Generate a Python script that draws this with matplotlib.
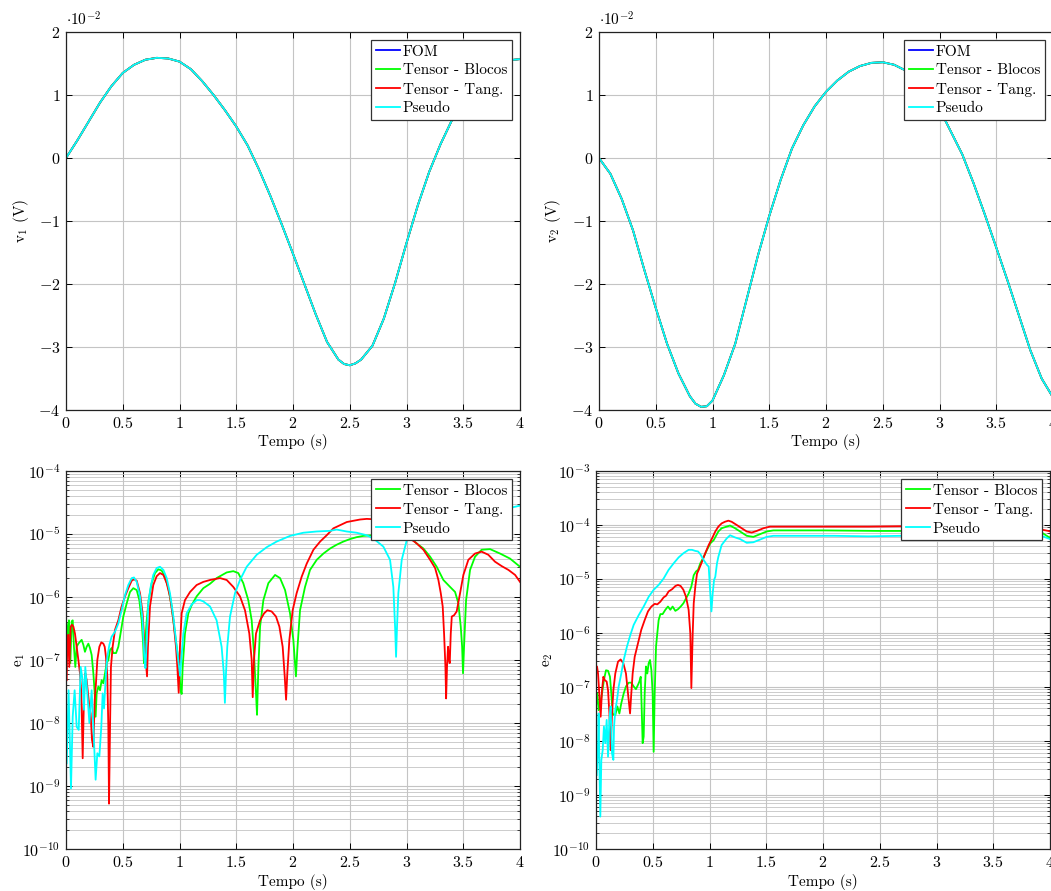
import matplotlib
matplotlib.use("Agg")
import matplotlib.pyplot as plt
import numpy as np
from matplotlib.ticker import FixedLocator, FuncFormatter, LogLocator, NullFormatter

plt.rcParams['font.family'] = 'serif'
plt.rcParams['font.serif'] = ['cmr10']
plt.rcParams['mathtext.fontset'] = 'cm'
plt.rcParams['axes.unicode_minus'] = False
plt.rcParams['font.size'] = 11

# ---------------- data ----------------
# voltages in units of 1e-2 V (all models coincide visually)
t_v1 = [0.0, 0.1, 0.2, 0.3, 0.4, 0.5, 0.6, 0.7, 0.8, 0.9,
        1.0, 1.1, 1.2, 1.3, 1.4, 1.5, 1.6, 1.7, 1.8, 1.9,
        2.0, 2.1, 2.2, 2.3, 2.4, 2.45, 2.5, 2.55, 2.6, 2.7, 2.8, 2.9,
        3.0, 3.1, 3.2, 3.3, 3.4, 3.5, 3.6, 3.7, 3.8, 3.9, 4.0]
v1_fom = [0.00, 0.28, 0.58, 0.88, 1.14, 1.35, 1.48, 1.56, 1.59, 1.58,
          1.53, 1.41, 1.22, 1.00, 0.76, 0.50, 0.20, -0.18, -0.60, -1.05,
          -1.52, -2.00, -2.48, -2.92, -3.20, -3.27, -3.29, -3.26, -3.20, -2.98, -2.55, -1.98,
          -1.35, -0.75, -0.22, 0.22, 0.60, 0.92, 1.18, 1.37, 1.49, 1.55, 1.57]
t_v2 = [0.0, 0.1, 0.2, 0.3, 0.4, 0.5, 0.6, 0.7, 0.8, 0.85, 0.9, 0.95,
        1.0, 1.1, 1.2, 1.3, 1.4, 1.5, 1.6, 1.7, 1.8, 1.9,
        2.0, 2.1, 2.2, 2.3, 2.4, 2.5, 2.6, 2.7, 2.8, 2.9,
        3.0, 3.1, 3.2, 3.3, 3.4, 3.5, 3.6, 3.7, 3.8, 3.9, 4.0]
v2_fom = [0.00, -0.25, -0.65, -1.15, -1.78, -2.38, -2.95, -3.42, -3.78, -3.90, -3.95, -3.94,
          -3.85, -3.45, -2.95, -2.25, -1.55, -0.92, -0.35, 0.15, 0.52, 0.82,
          1.05, 1.23, 1.37, 1.46, 1.51, 1.52, 1.48, 1.39, 1.24, 1.05,
          0.78, 0.42, 0.06, -0.40, -0.90, -1.42, -1.95, -2.50, -3.05, -3.50, -3.80]
v1_blocos = v1_fom
v1_tang = v1_fom
v1_pseudo = v1_fom
v2_blocos = v2_fom
v2_tang = v2_fom
v2_pseudo = v2_fom

# errors e1 : time (s) and log10(error)
e1_blocos_t = [0.006, 0.018, 0.026, 0.038, 0.050, 0.059, 0.070, 0.082, 0.094, 0.109,
               0.123, 0.138, 0.153, 0.167, 0.182, 0.197, 0.211, 0.226, 0.241, 0.253,
               0.261, 0.270, 0.285, 0.300, 0.314, 0.329, 0.344, 0.358, 0.373, 0.388,
               0.402, 0.417, 0.441, 0.461, 0.476, 0.505, 0.535, 0.564, 0.593, 0.623,
               0.646, 0.667, 0.681, 0.687, 0.696, 0.711, 0.728, 0.755, 0.784, 0.814,
               0.843, 0.872, 0.902, 0.931, 0.960, 0.990, 1.010, 1.019, 1.028, 1.048,
               1.078, 1.107, 1.151, 1.210, 1.269, 1.327, 1.416, 1.474, 1.518, 1.562,
               1.606, 1.636, 1.656, 1.674, 1.683, 1.695, 1.710, 1.739, 1.783, 1.842,
               1.886, 1.930, 1.974, 2.003, 2.026, 2.038, 2.062, 2.106, 2.150, 2.209,
               2.268, 2.327, 2.385, 2.444, 2.503, 2.561, 2.620, 2.700, 2.800, 2.900,
               3.000, 3.060, 3.090, 3.149, 3.208, 3.266, 3.325, 3.384, 3.428, 3.457,
               3.478, 3.490, 3.498, 3.507, 3.525, 3.560, 3.604, 3.662, 3.736, 3.824,
               3.912, 4.000]
e1_blocos_lg = [-6.42, -6.68, -6.37, -7.05, -6.39, -6.37, -6.79, -7.11, -6.79, -6.74,
                -6.71, -6.68, -6.76, -6.87, -6.79, -6.74, -6.81, -6.92, -7.21, -7.53,
                -7.90, -7.53, -7.42, -7.48, -7.32, -7.37, -7.21, -7.05, -7.00, -6.84,
                -6.81, -6.89, -6.89, -6.79, -6.63, -6.31, -6.10, -5.92, -5.86, -5.89,
                -6.05, -6.37, -6.79, -7.05, -6.79, -6.37, -6.05, -5.78, -5.62, -5.56,
                -5.58, -5.68, -5.86, -6.15, -6.58, -7.00, -7.48, -7.54, -7.11, -6.58,
                -6.26, -6.13, -5.99, -5.86, -5.79, -5.70, -5.61, -5.59, -5.62, -5.78,
                -6.05, -6.37, -6.89, -7.53, -7.87, -7.11, -6.47, -6.05, -5.78, -5.65,
                -5.70, -5.89, -6.26, -6.68, -7.26, -6.84, -6.21, -5.84, -5.57, -5.41,
                -5.31, -5.23, -5.17, -5.12, -5.08, -5.05, -5.03, -5.02, -5.02, -5.05,
                -5.08, -5.10, -5.15, -5.23, -5.36, -5.52, -5.73, -5.84, -5.92, -6.10,
                -6.47, -6.79, -7.21, -6.79, -6.05, -5.57, -5.36, -5.25, -5.24, -5.31,
                -5.39, -5.52]

e1_tang_t = [0.006, 0.012, 0.020, 0.029, 0.041, 0.053, 0.065, 0.079, 0.094, 0.109,
             0.123, 0.135, 0.147, 0.159, 0.170, 0.182, 0.194, 0.206, 0.217, 0.229,
             0.241, 0.253, 0.264, 0.276, 0.294, 0.311, 0.329, 0.341, 0.352, 0.364,
             0.373, 0.379, 0.388, 0.396, 0.411, 0.432, 0.461, 0.490, 0.520, 0.549,
             0.579, 0.599, 0.623, 0.652, 0.675, 0.693, 0.705, 0.714, 0.722, 0.740,
             0.769, 0.799, 0.828, 0.858, 0.887, 0.916, 0.946, 0.969, 0.981, 0.993,
             1.004, 1.019, 1.048, 1.093, 1.151, 1.210, 1.269, 1.357, 1.416, 1.474,
             1.533, 1.577, 1.615, 1.636, 1.645, 1.656, 1.674, 1.710, 1.745, 1.774,
             1.812, 1.850, 1.880, 1.909, 1.927, 1.939, 1.950, 1.968, 1.997, 2.032,
             2.076, 2.121, 2.180, 2.239, 2.297, 2.356, 2.415, 2.474, 2.533, 2.591,
             2.650, 2.750, 2.850, 2.950, 3.031, 3.090, 3.149, 3.208, 3.252, 3.281,
             3.302, 3.319, 3.331, 3.343, 3.349, 3.357, 3.366, 3.375, 3.381, 3.390,
             3.399, 3.419, 3.442, 3.472, 3.501, 3.545, 3.604, 3.662, 3.721, 3.780,
             3.839, 3.898, 3.957, 4.000]
e1_tang_lg = [-7.32, -6.68, -6.60, -7.11, -6.47, -6.44, -6.47, -6.58, -6.79, -7.00,
              -7.21, -7.53, -8.56, -7.53, -7.21, -7.32, -7.53, -7.74, -7.85, -8.27,
              -8.38, -7.63, -7.37, -7.00, -6.79, -6.72, -6.74, -6.79, -6.95, -7.26,
              -8.06, -9.28, -8.06, -7.11, -6.79, -6.52, -6.37, -6.15, -5.99, -5.86,
              -5.74, -5.72, -5.74, -5.94, -6.26, -6.79, -7.05, -7.26, -6.79, -6.15,
              -5.81, -5.67, -5.62, -5.65, -5.78, -5.99, -6.37, -6.79, -7.11, -7.52,
              -6.79, -6.26, -6.05, -5.92, -5.81, -5.76, -5.73, -5.70, -5.73, -5.84,
              -5.99, -6.21, -6.58, -7.00, -7.59, -7.00, -6.58, -6.37, -6.26, -6.21,
              -6.23, -6.31, -6.47, -6.79, -7.26, -7.63, -7.21, -6.68, -6.21, -5.94,
              -5.68, -5.47, -5.25, -5.12, -5.02, -4.91, -4.86, -4.81, -4.79, -4.77,
              -4.76, -4.77, -4.83, -4.95, -5.07, -5.15, -5.25, -5.41, -5.54, -5.73,
              -5.94, -6.15, -6.58, -7.11, -7.61, -7.11, -6.79, -7.00, -7.05, -6.58,
              -6.31, -6.29, -6.23, -5.94, -5.65, -5.41, -5.31, -5.28, -5.33, -5.44,
              -5.51, -5.57, -5.65, -5.76]

e1_pseudo_t = [0.006, 0.023, 0.044, 0.059, 0.076, 0.094, 0.112, 0.129, 0.147, 0.159,
               0.170, 0.188, 0.206, 0.226, 0.241, 0.261, 0.276, 0.294, 0.311, 0.323,
               0.335, 0.352, 0.364, 0.382, 0.402, 0.432, 0.461, 0.490, 0.520, 0.549,
               0.579, 0.599, 0.623, 0.652, 0.675, 0.690, 0.700, 0.711, 0.725, 0.746,
               0.769, 0.799, 0.828, 0.858, 0.887, 0.916, 0.946, 0.975, 0.999, 1.005,
               1.020, 1.034, 1.063, 1.107, 1.151, 1.181, 1.210, 1.269, 1.327, 1.371,
               1.390, 1.400, 1.410, 1.421, 1.445, 1.489, 1.533, 1.592, 1.680, 1.768,
               1.856, 1.974, 2.091, 2.209, 2.325, 2.385, 2.473, 2.561, 2.649, 2.708,
               2.796, 2.855, 2.884, 2.900, 2.908, 2.916, 2.928, 2.958, 3.002, 3.100,
               3.300, 3.500, 3.700, 3.900, 4.000]
e1_pseudo_lg = [-8.64, -7.48, -9.04, -7.90, -7.48, -8.06, -8.11, -7.11, -7.32, -7.79,
                -7.11, -7.53, -8.00, -7.48, -8.06, -8.90, -8.48, -8.53, -8.06, -7.53,
                -7.77, -7.21, -6.95, -6.76, -6.63, -6.55, -6.42, -6.21, -5.97, -5.81,
                -5.70, -5.69, -5.76, -5.99, -6.37, -6.95, -7.13, -6.68, -6.10, -5.84,
                -5.65, -5.54, -5.52, -5.57, -5.70, -5.94, -6.31, -6.79, -7.15, -7.25,
                -6.90, -6.58, -6.26, -6.12, -6.05, -6.05, -6.07, -6.15, -6.37, -6.79,
                -7.20, -7.68, -7.20, -6.79, -6.31, -5.94, -5.73, -5.52, -5.33, -5.21,
                -5.12, -5.03, -4.98, -4.96, -4.95, -4.93, -4.96, -4.98, -5.02, -5.07,
                -5.20, -5.41, -5.84, -6.50, -6.95, -6.50, -5.94, -5.41, -5.10, -5.00,
                -4.88, -4.76, -4.66, -4.59, -4.55]

# errors e2 : time (s) and log10(error)
e2_blocos_t = [0.000, 0.012, 0.023, 0.035, 0.053, 0.070, 0.088, 0.106, 0.123, 0.135,
               0.147, 0.159, 0.170, 0.188, 0.206, 0.223, 0.244, 0.264, 0.288, 0.311,
               0.332, 0.352, 0.370, 0.382, 0.394, 0.402, 0.411, 0.420, 0.429, 0.440,
               0.452, 0.464, 0.476, 0.488, 0.499, 0.508, 0.517, 0.529, 0.540, 0.552,
               0.567, 0.587, 0.611, 0.634, 0.655, 0.675, 0.699, 0.722, 0.746, 0.770,
               0.793, 0.816, 0.840, 0.861, 0.881, 0.899, 0.919, 0.949, 0.978, 1.007,
               1.037, 1.078, 1.107, 1.151, 1.181, 1.225, 1.284, 1.328, 1.386, 1.445,
               1.504, 1.563, 2.000, 2.500, 3.000, 3.500, 3.912, 3.986, 4.000]
e2_blocos_lg = [-7.36, -7.12, -7.43, -7.36, -7.12, -6.87, -6.69, -6.70, -6.81, -7.12,
                -7.49, -7.52, -7.52, -7.36, -7.49, -7.30, -7.12, -6.99, -6.92, -6.92,
                -6.99, -7.04, -6.96, -6.90, -6.81, -7.36, -8.04, -7.92, -7.12, -6.62,
                -6.75, -6.56, -6.50, -6.69, -7.12, -8.20, -7.12, -6.25, -6.01, -5.76,
                -5.65, -5.65, -5.57, -5.51, -5.57, -5.51, -5.59, -5.56, -5.51, -5.45,
                -5.36, -5.27, -5.14, -4.93, -4.86, -4.83, -4.71, -4.59, -4.46, -4.34,
                -4.28, -4.12, -4.06, -4.03, -4.01, -4.06, -4.14, -4.20, -4.22, -4.17,
                -4.12, -4.10, -4.10, -4.11, -4.11, -4.11, -4.12, -4.22, -4.23]

e2_tang_t = [0.000, 0.009, 0.018, 0.029, 0.041, 0.053, 0.065, 0.076, 0.094, 0.106,
             0.118, 0.129, 0.141, 0.153, 0.170, 0.194, 0.217, 0.241, 0.264, 0.282,
             0.300, 0.311, 0.323, 0.341, 0.370, 0.399, 0.429, 0.458, 0.488, 0.517,
             0.540, 0.567, 0.596, 0.617, 0.640, 0.670, 0.699, 0.722, 0.746, 0.770,
             0.793, 0.816, 0.831, 0.840, 0.852, 0.861, 0.875, 0.890, 0.905, 0.934,
             0.963, 0.993, 1.022, 1.051, 1.078, 1.107, 1.136, 1.166, 1.195, 1.240,
             1.284, 1.328, 1.372, 1.416, 1.475, 1.533, 1.622, 2.000, 2.400, 2.800,
             3.200, 3.600, 3.912, 3.986, 4.000]
e2_tang_lg = [-6.78, -6.62, -6.75, -7.12, -7.55, -7.06, -6.81, -6.87, -6.90, -7.06,
              -7.49, -8.17, -7.49, -7.06, -6.75, -6.53, -6.49, -6.56, -6.75, -7.12,
              -7.49, -7.12, -6.75, -6.44, -6.19, -5.94, -5.76, -5.60, -5.51, -5.46,
              -5.47, -5.42, -5.34, -5.31, -5.23, -5.19, -5.13, -5.11, -5.13, -5.20,
              -5.33, -5.57, -6.01, -7.02, -6.01, -5.45, -5.14, -4.90, -4.83, -4.68,
              -4.52, -4.37, -4.25, -4.12, -4.03, -3.97, -3.94, -3.92, -3.94, -4.00,
              -4.06, -4.12, -4.14, -4.11, -4.06, -4.03, -4.03, -4.03, -4.03, -4.02,
              -4.02, -4.03, -4.08, -4.11, -4.12]

e2_pseudo_t = [0.006, 0.018, 0.023, 0.029, 0.038, 0.047, 0.059, 0.070, 0.082, 0.094,
               0.106, 0.118, 0.129, 0.141, 0.153, 0.159, 0.170, 0.185, 0.200, 0.223,
               0.244, 0.273, 0.302, 0.332, 0.376, 0.420, 0.464, 0.508, 0.552, 0.596,
               0.640, 0.684, 0.728, 0.772, 0.816, 0.846, 0.875, 0.899, 0.919, 0.949,
               0.978, 0.993, 1.007, 1.017, 1.028, 1.040, 1.051, 1.066, 1.078, 1.107,
               1.151, 1.181, 1.225, 1.269, 1.328, 1.386, 1.445, 1.504, 1.563, 1.800,
               2.100, 2.400, 2.700, 3.000, 3.300, 3.600, 3.912, 3.986, 4.000]
e2_pseudo_lg = [-8.63, -8.04, -7.49, -8.35, -9.40, -8.35, -8.17, -7.73, -8.04, -7.61,
                -8.29, -7.61, -7.36, -8.23, -8.35, -7.73, -7.43, -7.24, -6.99, -6.75,
                -6.50, -6.25, -6.04, -5.85, -5.67, -5.51, -5.33, -5.20, -5.11, -4.99,
                -4.83, -4.71, -4.60, -4.52, -4.46, -4.46, -4.48, -4.49, -4.54, -4.65,
                -4.74, -4.77, -5.27, -5.60, -5.27, -5.02, -4.96, -4.71, -4.59, -4.37,
                -4.25, -4.19, -4.23, -4.26, -4.33, -4.32, -4.27, -4.22, -4.20, -4.20,
                -4.20, -4.21, -4.20, -4.20, -4.19, -4.19, -4.19, -4.25, -4.26]

x_ticks = [0, 0.5, 1, 1.5, 2, 2.5, 3, 3.5, 4]
v_ticks = [-4, -3, -2, -1, 0, 1, 2]

C_FOM, C_BLO, C_TAN, C_PSE = '#0000ff', '#00ff00', '#ff0000', '#00ffff'
LW = 1.3
GRID = '#c4c4c4'

W, H = 1051, 891
fig = plt.figure(figsize=(W / 100, H / 100), dpi=100)


def add_ax(x0, y0, x1, y1):
    return fig.add_axes([x0 / W, 1 - y1 / H, (x1 - x0) / W, (y1 - y0) / H])


def style(ax):
    for s in ax.spines.values():
        s.set_linewidth(0.9)
        s.set_color('#222222')
    ax.set_xlim(0, 4)
    ax.xaxis.set_major_locator(FixedLocator(x_ticks))
    ax.xaxis.set_major_formatter(FuncFormatter(lambda v, p: "$%g$" % v))
    ax.tick_params(which='major', direction='in', length=4, width=0.7,
                   top=True, right=True, labelsize=11.5, pad=4)
    ax.tick_params(which='minor', direction='in', length=2.2, width=0.5,
                   top=True, right=True)
    ax.set_xlabel("Tempo (s)", fontsize=11, va='center')
    ax.set_axisbelow(True)


def leg(ax):
    lg = ax.legend(loc='upper right', fancybox=False, framealpha=1, edgecolor='#333333',
                   borderaxespad=0.55, handlelength=1.55, handletextpad=0.2,
                   labelspacing=0.33, borderpad=0.3, fontsize=11)
    lg.get_frame().set_linewidth(0.9)


def vplot(ax, t, fom, blo, tan, pse, ylabel):
    ax.plot(t, fom, color=C_FOM, lw=LW, label='FOM')
    ax.plot(t, blo, color=C_BLO, lw=LW, label='Tensor - Blocos')
    ax.plot(t, tan, color=C_TAN, lw=LW, label='Tensor - Tang.')
    ax.plot(t, pse, color=C_PSE, lw=LW, label='Pseudo')
    style(ax)
    ax.set_ylim(-4, 2)
    ax.yaxis.set_major_locator(FixedLocator(v_ticks))
    ax.yaxis.set_major_formatter(FuncFormatter(lambda v, p: "$%d$" % v))
    ax.grid(True, which='major', color=GRID, lw=0.8)
    ax.set_ylabel(ylabel, fontsize=11, va='center')
    ax.text(0.0, 1.008, r"$\cdot 10^{-2}$", transform=ax.transAxes,
            ha='left', va='bottom', fontsize=11)
    leg(ax)


def eplot(ax, series, ylabel, ymin, ymax):
    for (tt, lg_, c, lab) in series:
        ax.plot(tt, 10.0 ** np.asarray(lg_), color=c, lw=LW, label=lab)
    style(ax)
    ax.set_yscale('log')
    ax.set_ylim(ymin, ymax)
    ax.yaxis.set_major_locator(LogLocator(base=10, numticks=20))
    ax.yaxis.set_minor_locator(LogLocator(base=10, subs=np.arange(2, 10), numticks=20))
    ax.yaxis.set_minor_formatter(NullFormatter())
    ax.yaxis.set_major_formatter(FuncFormatter(lambda v, p: r"$10^{%d}$" % int(round(np.log10(v)))))
    ax.grid(True, which='major', color=GRID, lw=0.8)
    ax.grid(True, which='minor', axis='y', color=GRID, lw=0.6)
    ax.set_ylabel(ylabel, fontsize=11, va='center')
    leg(ax)


ax1 = add_ax(66, 32, 520, 410)
vplot(ax1, t_v1, v1_fom, v1_blocos, v1_tang, v1_pseudo, r"v$_1$ (V)")
ax1.yaxis.set_label_coords(-0.099, 0.5)
ax1.xaxis.set_label_coords(0.5, -0.085)

ax2 = add_ax(599, 32, 1053, 410)
vplot(ax2, t_v2, v2_fom, v2_blocos, v2_tang, v2_pseudo, r"v$_2$ (V)")
ax2.yaxis.set_label_coords(-0.101, 0.5)
ax2.xaxis.set_label_coords(0.5, -0.085)

ax3 = add_ax(66, 471, 520, 849)
eplot(ax3, [(e1_blocos_t, e1_blocos_lg, C_BLO, 'Tensor - Blocos'),
            (e1_tang_t, e1_tang_lg, C_TAN, 'Tensor - Tang.'),
            (e1_pseudo_t, e1_pseudo_lg, C_PSE, 'Pseudo')],
      r"e$_1$", 1e-10, 1e-4)
ax3.yaxis.set_label_coords(-0.1, 0.5)
ax3.xaxis.set_label_coords(0.5, -0.088)

ax4 = add_ax(596, 471, 1050, 849)
eplot(ax4, [(e2_blocos_t, e2_blocos_lg, C_BLO, 'Tensor - Blocos'),
            (e2_tang_t, e2_tang_lg, C_TAN, 'Tensor - Tang.'),
            (e2_pseudo_t, e2_pseudo_lg, C_PSE, 'Pseudo')],
      r"e$_2$", 1e-10, 1e-3)
ax4.yaxis.set_label_coords(-0.106, 0.5)
ax4.xaxis.set_label_coords(0.5, -0.088)

fig.savefig("out.png", dpi=100)
